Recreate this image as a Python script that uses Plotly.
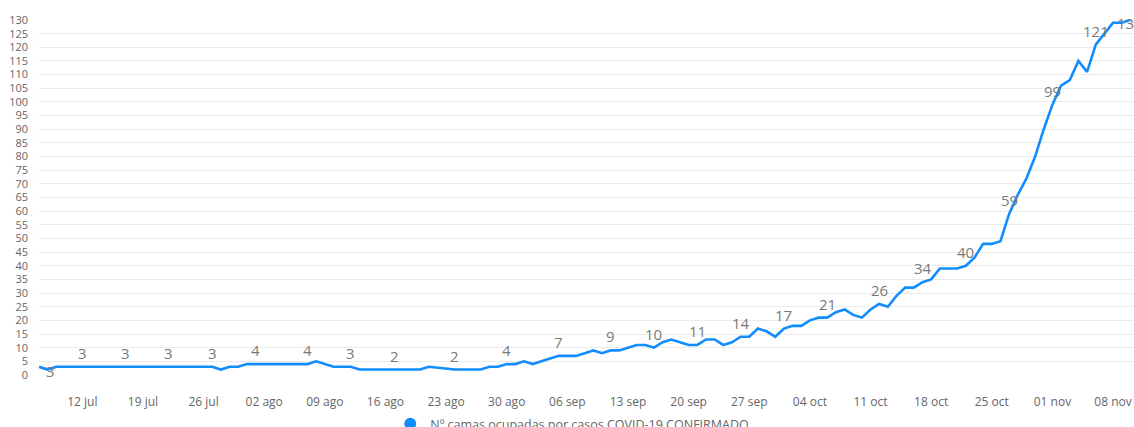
import pandas as pd
import plotly.graph_objects as go

# Camas ocupadas por casos COVID-19 confirmados, valores diarios
julio = [3, 2, 3, 3, 3, 3, 3, 3, 3, 3, 3, 3, 3, 3, 3, 3, 3, 3, 3, 3, 3, 2, 3, 3, 4]  # 07-31 jul
agosto = [4, 4, 4, 4, 4, 4, 4, 5, 4, 3, 3, 3, 2, 2, 2, 2, 2, 2, 2, 2,
          3, 2.7, 2.3, 2, 2, 2, 2, 3, 3, 4, 4]
septiembre = [5, 4, 5, 6, 7, 7, 7, 8, 9, 8, 9, 9, 10, 11, 11, 10, 12, 13, 12, 11,
              11, 13, 13, 11, 12, 14, 14, 17, 16, 14]
octubre = [17, 18, 18, 20, 21, 21, 23, 24, 22, 21, 24, 26, 25, 29, 32, 32, 34, 35, 39, 39,
           39, 40, 43, 48, 48, 49, 59, 66, 72, 80, 90]
noviembre = [99, 106, 108, 115, 111, 121, 125, 129, 129, 130]  # 01-10 nov

camas = julio + agosto + septiembre + octubre + noviembre
fechas = pd.date_range("2020-07-07", periods=len(camas), freq="D")

# Fechas con etiqueta de valor
fechas_etiqueta = ["2020-07-09", "2020-07-12", "2020-07-17", "2020-07-22", "2020-07-27",
                   "2020-08-01", "2020-08-07", "2020-08-12", "2020-08-17", "2020-08-24",
                   "2020-08-30", "2020-09-05", "2020-09-11", "2020-09-16", "2020-09-21",
                   "2020-09-26", "2020-10-01", "2020-10-06", "2020-10-12", "2020-10-17",
                   "2020-10-22", "2020-10-27", "2020-11-01", "2020-11-06", "2020-11-10"]

# Marcas del eje X
ticks_x = ["2020-07-12", "2020-07-19", "2020-07-26", "2020-08-02", "2020-08-09",
           "2020-08-16", "2020-08-23", "2020-08-30", "2020-09-06", "2020-09-13",
           "2020-09-20", "2020-09-27", "2020-10-04", "2020-10-11", "2020-10-18",
           "2020-10-25", "2020-11-01", "2020-11-08"]
ticks_x_texto = ["12 jul", "19 jul", "26 jul", "02 ago", "09 ago", "16 ago", "23 ago",
                 "30 ago", "06 sep", "13 sep", "20 sep", "27 sep", "04 oct", "11 oct",
                 "18 oct", "25 oct", "01 nov", "08 nov"]
ticks_y = list(range(0, 131, 5))

serie = "Nº camas ocupadas por casos COVID-19 CONFIRMADO"
azul = "#118DFF"
fuente = "Open Sans, Noto Sans, sans-serif"

fig = go.Figure()
fig.add_trace(go.Scatter(
    x=fechas, y=camas, mode="lines",
    line=dict(color=azul, width=2.6),
    showlegend=False, hoverinfo="x+y",
))
# Entrada de leyenda con marcador circular
fig.add_trace(go.Scatter(
    x=[None], y=[None], mode="markers", name=serie,
    marker=dict(color=azul, size=12, symbol="circle"),
))

serie_valores = pd.Series(camas, index=fechas)
anotaciones = []
for f in fechas_etiqueta:
    v = serie_valores[pd.Timestamp(f)]
    yshift, xshift = 14, 0
    if f == "2020-07-09":
        yshift, xshift = -4, -6
    elif f == "2020-11-10":
        yshift = -3
    anotaciones.append(dict(
        x=f, y=v, text=f"{v:g}", showarrow=False,
        xshift=xshift, yshift=yshift,
        font=dict(family=fuente, size=15, color="#7a7a7a"),
    ))

fig.update_layout(
    width=1134, height=427,
    margin=dict(l=39, r=0, t=20, b=52, autoexpand=False),
    paper_bgcolor="white", plot_bgcolor="white",
    font=dict(family=fuente, color="#666666"),
    annotations=anotaciones,
    showlegend=True,
    legend=dict(
        orientation="h", x=0.487, xanchor="center",
        yref="container", y=0.042, yanchor="top",
        font=dict(family=fuente, size=12.5, color="#666666"),
        itemwidth=30, bgcolor="rgba(0,0,0,0)",
    ),
    xaxis=dict(
        range=[pd.Timestamp("2020-07-07"), pd.Timestamp("2020-11-10 10:00")],
        tickvals=ticks_x, ticktext=ticks_x_texto,
        showgrid=False, zeroline=False, showline=False,
        ticks="", ticklabelstandoff=18,
        tickfont=dict(family=fuente, size=12, color="#666666"),
    ),
    yaxis=dict(
        range=[0, 130], tickvals=ticks_y,
        showgrid=True, gridcolor="#ebebeb", gridwidth=1,
        zeroline=False, showline=False, ticks="",
        ticklabelstandoff=10,
        tickfont=dict(family=fuente, size=11, color="#666666"),
    ),
)

fig.write_html("out.html")
